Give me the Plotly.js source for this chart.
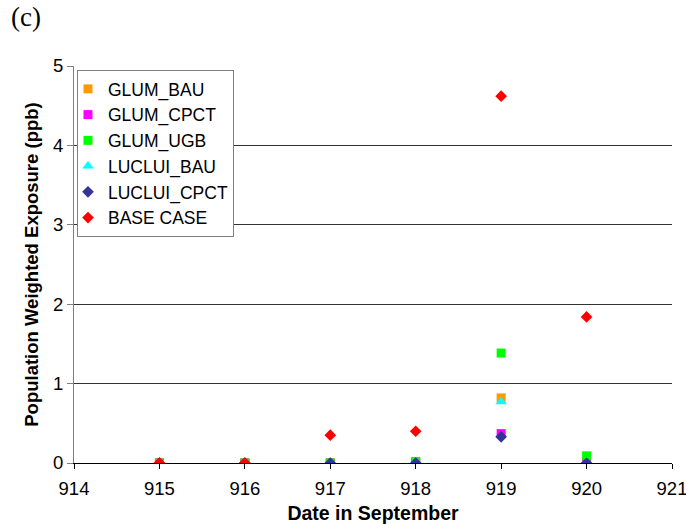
<!DOCTYPE html>
<html><head><meta charset="utf-8">
<script src="https://cdn.plot.ly/plotly-3.0.1.min.js"></script>
<style>body{margin:0;background:#fff}#c{width:686px;height:524px}</style>
</head><body><div id="c"></div>
<script>
const dates = [915, 916, 917, 918, 919, 920];
const seriesNames = ["GLUM_BAU", "GLUM_CPCT", "GLUM_UGB", "LUCLUI_BAU", "LUCLUI_CPCT", "BASE CASE"];
const glumBau = [0, 0, 0, 0.01, 0.82, 0.02];
const glumCpct = [0, 0, 0, 0, 0.37, 0.01];
const glumUgb = [0, 0, 0, 0.02, 1.385, 0.09];
const lucluiBau = [0, 0, 0, 0, 0.77, 0.02];
const lucluiCpct = [0, 0, 0, 0, 0.33, 0];
const baseCase = [0, 0, 0.35, 0.40, 4.62, 1.84];
const xTicks = [914, 915, 916, 917, 918, 919, 920, 921];
const yTicks = [0, 1, 2, 3, 4, 5];

const values = [glumBau, glumCpct, glumUgb, lucluiBau, lucluiCpct, baseCase];
const colors = ["#ff9900", "#ff00ff", "#00ff00", "#00ffff", "#333399", "#ff0000"];
const symbols = ["square", "square", "square", "triangle-up", "diamond", "diamond"];
const sizes = [9, 9, 9, 10, 9, 9];

const traces = values.map((v, i) => ({
  x: dates, y: v, name: seriesNames[i], type: "scatter", mode: "markers",
  marker: {color: colors[i], symbol: symbols[i], size: sizes[i], line: {width: 0}}
}));

const FONT = "Liberation Sans, Arial, sans-serif";
const layout = {
  width: 686, height: 524,
  margin: {l: 74, r: 14, t: 66, b: 61},
  paper_bgcolor: "#fff", plot_bgcolor: "#fff",
  font: {family: FONT, size: 18, color: "#000"},
  showlegend: true,
  legend: {x: 0.005, y: 0.99, xanchor: "left", yanchor: "top", bgcolor: "#fff",
    bordercolor: "#808080", borderwidth: 1, font: {size: 17.5}, tracegroupgap: 0,
    itemwidth: 30, indentation: -10},
  xaxis: {range: [914, 921], tickvals: xTicks, ticktext: xTicks.map(String),
    showgrid: false, zeroline: false, showline: true, linecolor: "#000", linewidth: 1,
    ticks: "outside", ticklen: 5, tickcolor: "#000", tickfont: {size: 18.5},
    ticklabelstandoff: 4, ticklabeloverflow: "allow",
    title: {text: "<b>Date in September</b>", font: {size: 19.5}, standoff: 8}},
  yaxis: {range: [0, 5], tickvals: yTicks, showgrid: true, gridcolor: "#333", gridwidth: 1,
    zeroline: false, showline: true, linecolor: "#808080", linewidth: 1,
    ticks: "outside", ticklen: 6, tickcolor: "#808080", tickfont: {size: 18.5},
    title: {text: "<b>Population Weighted Exposure (ppb)</b>", font: {size: 18.5}, standoff: 9}},
  annotations: [{text: "(c)", xref: "paper", yref: "paper", x: -0.108, y: 1.165,
    xanchor: "left", yanchor: "top", showarrow: false,
    font: {family: "Liberation Serif, Times New Roman, serif", size: 27}}]
};
Plotly.newPlot("c", traces, layout, {displayModeBar: false});
</script></body></html>
